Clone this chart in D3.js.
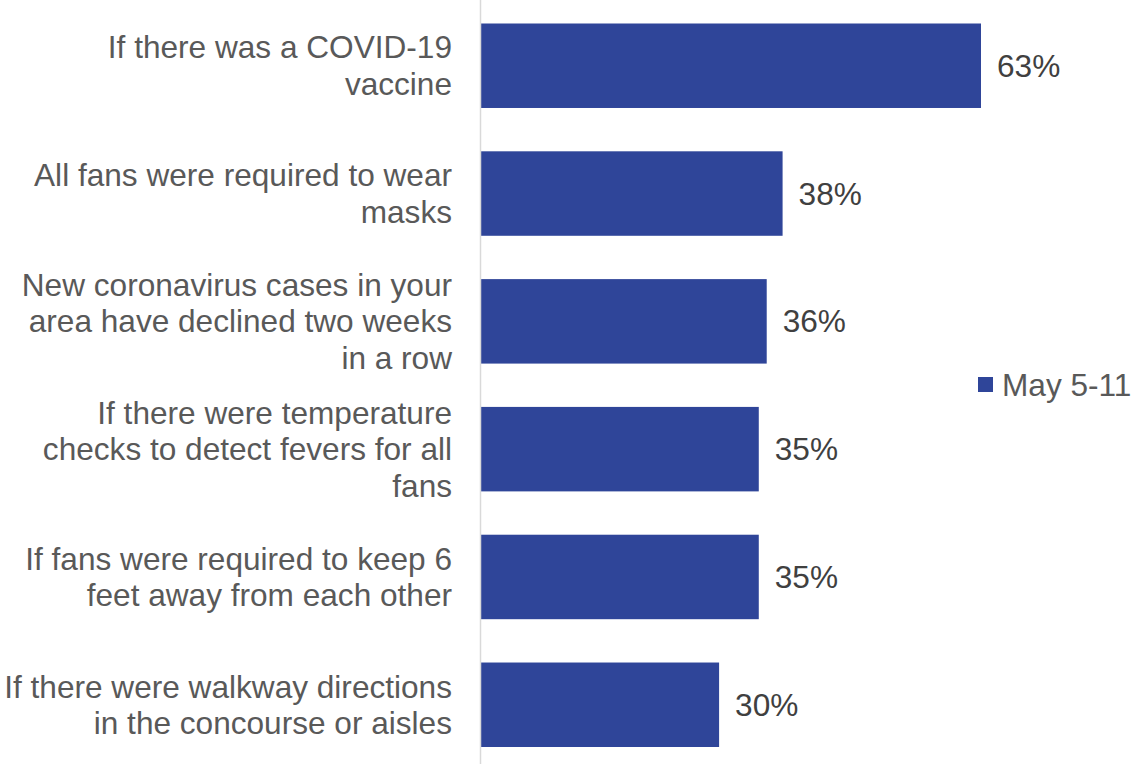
<!DOCTYPE html>
<html>
<head>
<meta charset="utf-8">
<script src="https://cdn.jsdelivr.net/npm/d3@7"></script>
<style>
  body { margin: 0; background: #fff; }
  text { font-family: "Liberation Sans", Arial, sans-serif; }
</style>
</head>
<body>
<div id="chart"></div>
<script>
// categories (each label split into its lines) and values
const categories = [
  ["If there was a COVID-19", "vaccine"],
  ["All fans were required to wear", "masks"],
  ["New coronavirus cases in your", "area have declined two weeks", "in a row"],
  ["If there were temperature", "checks to detect fevers for all", "fans"],
  ["If fans were required to keep 6", "feet away from each other"],
  ["If there were walkway directions", "in the concourse or aisles"]
]
const values = [63, 38, 36, 35, 35, 30]
const seriesName = "May 5-11"

const width = 1133
const height = 764
const x0 = 481
const barColor = "#2F4599"
const fontSize = "31.6px"

const svg = d3.select("#chart")
  .append("svg")
  .attr("width", width)
  .attr("height", height)

// échelles
const x = d3.scaleLinear()
  .domain([0, 63])
  .range([x0, 981])

const y = d3.scaleBand()
  .domain(d3.range(categories.length))
  .range([23.5, 747])
  .paddingInner(0.339)
  .paddingOuter(0)

// barres
svg.selectAll("rect.bar")
  .data(values)
  .enter()
  .append("rect")
  .attr("class", "bar")
  .attr("x", x(0))
  .attr("y", (d, i) => y(i))
  .attr("width", d => x(d) - x(0))
  .attr("height", y.bandwidth())
  .attr("fill", barColor)

// axe vertical
svg.append("line")
  .attr("x1", x0 - 0.5)
  .attr("x2", x0 - 0.5)
  .attr("y1", 0)
  .attr("y2", height)
  .attr("stroke", "#d9d9d9")
  .attr("stroke-width", 1.5)

// étiquettes des catégories
const lineH = 36.5
const labels = svg.selectAll("text.cat")
  .data(categories)
  .enter()
  .append("text")
  .attr("class", "cat")
  .attr("text-anchor", "end")
  .attr("font-size", fontSize)
  .attr("fill", "#595959")

labels.each(function(lines, i) {
  const cy = y(i) + y.bandwidth() / 2
  const first = cy - (lines.length - 1) * lineH / 2 + 11
  d3.select(this).selectAll("tspan")
    .data(lines)
    .enter()
    .append("tspan")
    .attr("x", 452)
    .attr("y", (d, j) => first + j * lineH)
    .text(d => d)
})

// valeurs
svg.selectAll("text.val")
  .data(values)
  .enter()
  .append("text")
  .attr("class", "val")
  .attr("x", d => x(d) + 16)
  .attr("y", (d, i) => y(i) + y.bandwidth() / 2 + 11)
  .attr("font-size", fontSize)
  .attr("fill", "#404040")
  .text(d => d + "%")

// légende
svg.append("rect")
  .attr("x", 978)
  .attr("y", 377)
  .attr("width", 15)
  .attr("height", 15)
  .attr("fill", barColor)

svg.append("text")
  .attr("x", 1002)
  .attr("y", 396)
  .attr("font-size", fontSize)
  .attr("fill", "#595959")
  .text(seriesName)
</script>
</body>
</html>
